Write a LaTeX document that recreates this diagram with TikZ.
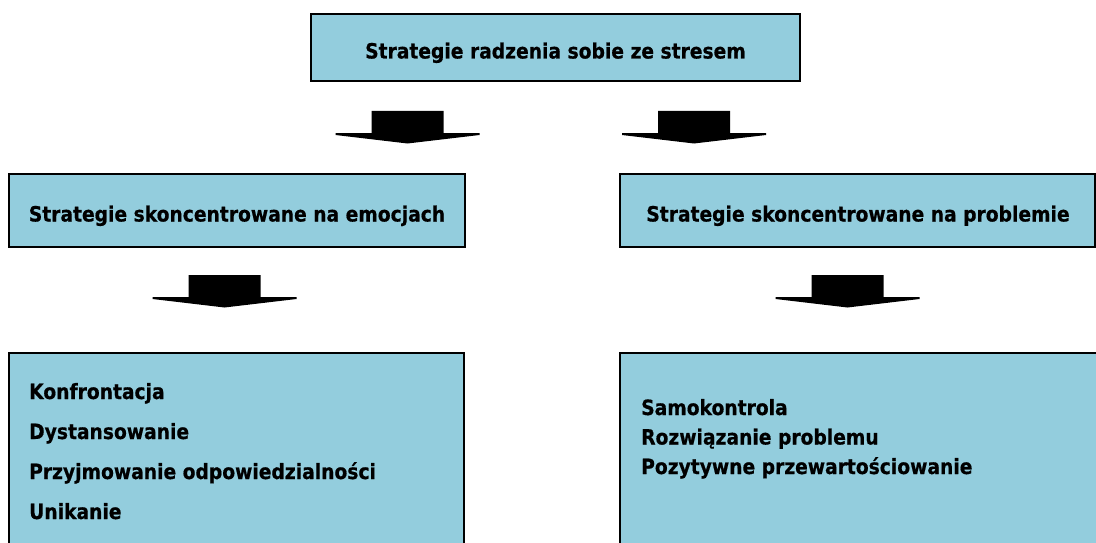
\documentclass[tikz,border=0pt]{standalone}
\usepackage{fontspec}
\setmainfont{DejaVu Sans}[FakeStretch=0.89,BoldFeatures={FakeBold=0.6}]
\begin{document}
\begin{tikzpicture}[x=1pt,y=-1pt,
  box/.style={draw=black,line width=1.6pt,fill=boxblue},
  lbl/.style={font=\fontsize{21}{24}\selectfont\bfseries,inner sep=0pt,anchor=base},
  item/.style={font=\fontsize{21}{24}\selectfont\bfseries,inner sep=0pt,anchor=base west},
  blockarrow/.pic={
    \fill[black] (-36,0) -- (36,0) -- (36,22) -- (72,22) -- (72,24)
      -- (0,32.5) -- (-72,24) -- (-72,22) -- (-36,22) -- cycle;
  }]
\definecolor{boxblue}{HTML}{93CDDD}
\useasboundingbox (0,0) rectangle (1096,543);
\clip (0,0) rectangle (1096,543);

% boxes
\draw[box] (311,14) rectangle (800,81);
\node[lbl] (root) at (555.5,58.5) {Strategie radzenia sobie ze stresem};

\draw[box] (9,174) rectangle (465,247);
\node[lbl] (emo) at (237,221.5) {Strategie skoncentrowane na emocjach};

\draw[box] (620,174) rectangle (1095,247);
\node[lbl] (prob) at (858,221.5) {Strategie skoncentrowane na problemie};

\draw[box] (9,353) rectangle (464,570);
\node[item] (e1) at (29,399) {Konfrontacja};
\node[item] (e2) at (29,439) {Dystansowanie};
\node[item] (e3) at (29,479) {Przyjmowanie odpowiedzialności};
\node[item] (e4) at (29,519) {Unikanie};

\draw[box] (620,353) rectangle (1120,570);
\node[item] (p1) at (641,415) {Samokontrola};
\node[item] (p2) at (641,444.5) {Rozwiązanie problemu};
\node[item] (p3) at (641,474) {Pozytywne przewartościowanie};

% block arrows between the levels
\coordinate (aL) at (407.5,111);
\coordinate (aR) at (694,111);
\coordinate (bL) at (224.5,275);
\coordinate (bR) at (847.5,275);
\pic at (aL) {blockarrow};
\pic at (aR) {blockarrow};
\pic at (bL) {blockarrow};
\pic at (bR) {blockarrow};
\end{tikzpicture}
\end{document}
